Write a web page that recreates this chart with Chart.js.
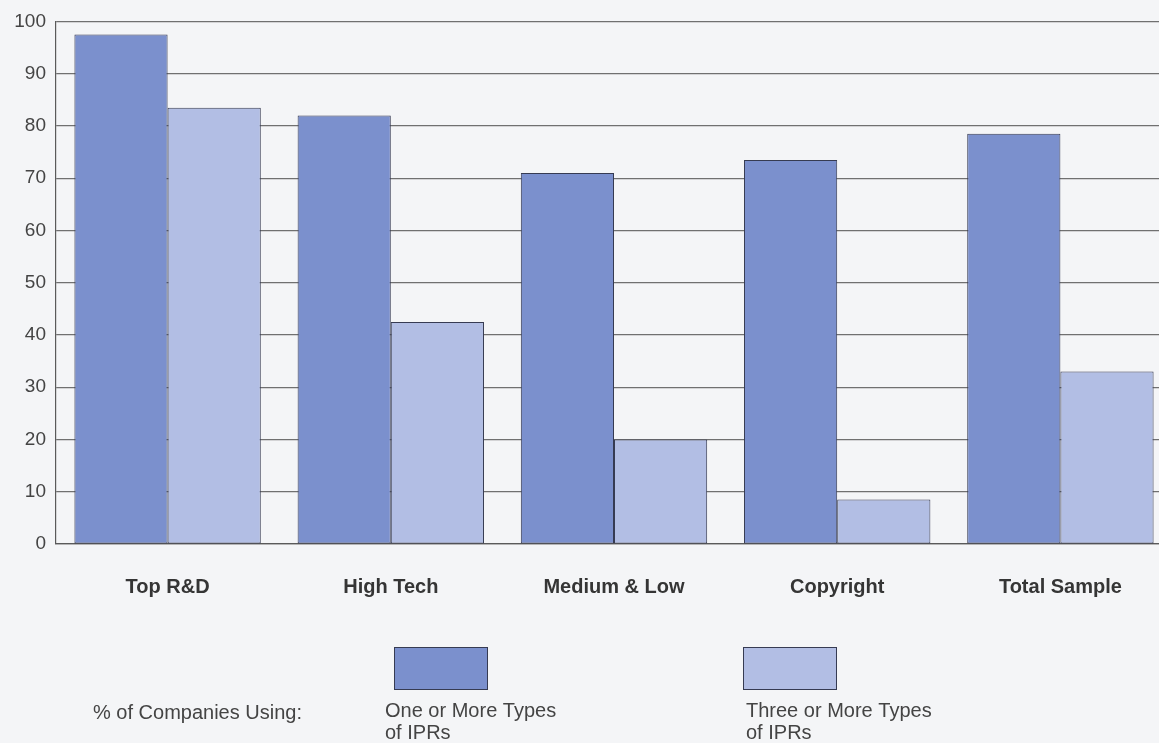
<!DOCTYPE html>
<html>
<head>
<meta charset="utf-8">
<script src="https://cdn.jsdelivr.net/npm/chart.js@4.4.1/dist/chart.umd.min.js"></script>
<style>
  html, body { margin: 0; padding: 0; background: #f4f5f7; overflow: hidden; }
  #wrap { position: relative; width: 1174px; height: 743px; }
</style>
</head>
<body>
<div id="wrap"><canvas id="chart"></canvas></div>
<script>
// Share of companies using intellectual property rights, by company group
const categories = ['Top R&D', 'High Tech', 'Medium & Low', 'Copyright', 'Total Sample'];
const oneOrMore = [97.5, 82, 71, 73.5, 78.5];
const threeOrMore = [83.5, 42.5, 20, 8.5, 33];
const seriesNames = [['One or More Types', 'of IPRs'], ['Three or More Types', 'of IPRs']];
const legendTitle = '% of Companies Using:';
const yTicks = [0, 10, 20, 30, 40, 50, 60, 70, 80, 90, 100];

const DARK = '#7b90cd';
const LIGHT = '#b2bee4';
const EDGE = '#363b52';
const TEXT = '#444444';

const pageBackground = {
  id: 'pageBackground',
  beforeDraw(chart) {
    const c = chart.ctx;
    c.save();
    c.fillStyle = '#f4f5f7';
    c.fillRect(0, 0, chart.width, chart.height);
    c.restore();
  }
};

// Legend below the plot: caption on the left, swatch + two-line label per series
const seriesKey = {
  id: 'seriesKey',
  afterDraw(chart) {
    const c = chart.ctx;
    c.save();
    c.font = '20px "Liberation Sans", Arial, sans-serif';
    c.fillStyle = TEXT;
    c.textBaseline = 'alphabetic';
    c.textAlign = 'left';
    c.fillText(legendTitle, 93, 719);
    const slots = [{ x: 394, tx: 385 }, { x: 743, tx: 746 }];
    chart.data.datasets.forEach((ds, i) => {
      const s = slots[i];
      c.fillStyle = ds.backgroundColor;
      c.fillRect(s.x, 647, 93, 42);
      c.strokeStyle = EDGE;
      c.lineWidth = 1;
      c.strokeRect(s.x + 0.5, 647.5, 93, 42);
      c.fillStyle = TEXT;
      const lines = seriesNames[i];
      c.fillText(lines[0], s.tx, 717);
      c.fillText(lines[1], s.tx, 739);
    });
    c.restore();
  }
};

new Chart(document.getElementById('chart'), {
  type: 'bar',
  data: {
    labels: categories,
    datasets: [
      { label: seriesNames[0].join(' '), data: oneOrMore, backgroundColor: DARK, borderColor: EDGE, borderWidth: 1, borderSkipped: false },
      { label: seriesNames[1].join(' '), data: threeOrMore, backgroundColor: LIGHT, borderColor: EDGE, borderWidth: 1, borderSkipped: false }
    ]
  },
  options: {
    responsive: true,
    maintainAspectRatio: false,
    animation: false,
    layout: { padding: { top: 17, left: 0, right: 2, bottom: 139 } },
    datasets: { bar: { categoryPercentage: 0.835, barPercentage: 1.0 } },
    plugins: { legend: { display: false }, tooltip: { enabled: false } },
    scales: {
      x: {
        grid: { display: false, drawTicks: false },
        border: { display: true, color: '#5a5a5a', width: 1.2 },
        ticks: { padding: 31, color: '#353535', font: { family: '"Liberation Sans", Arial, sans-serif', size: 20, weight: 'bold' } },
        afterFit(scale) { scale.height = 60; }
      },
      y: {
        min: 0, max: 100,
        afterBuildTicks(scale) { scale.ticks = yTicks.map(v => ({ value: v })); },
        grid: { color: '#707070', lineWidth: 1.2, drawTicks: false },
        border: { display: true, color: '#5a5a5a', width: 1.2 },
        ticks: { padding: 10, color: TEXT, font: { family: '"Liberation Sans", Arial, sans-serif', size: 19 } },
        afterFit(scale) { scale.width = 56; }
      }
    }
  },
  plugins: [pageBackground, seriesKey]
});
</script>
</body>
</html>
